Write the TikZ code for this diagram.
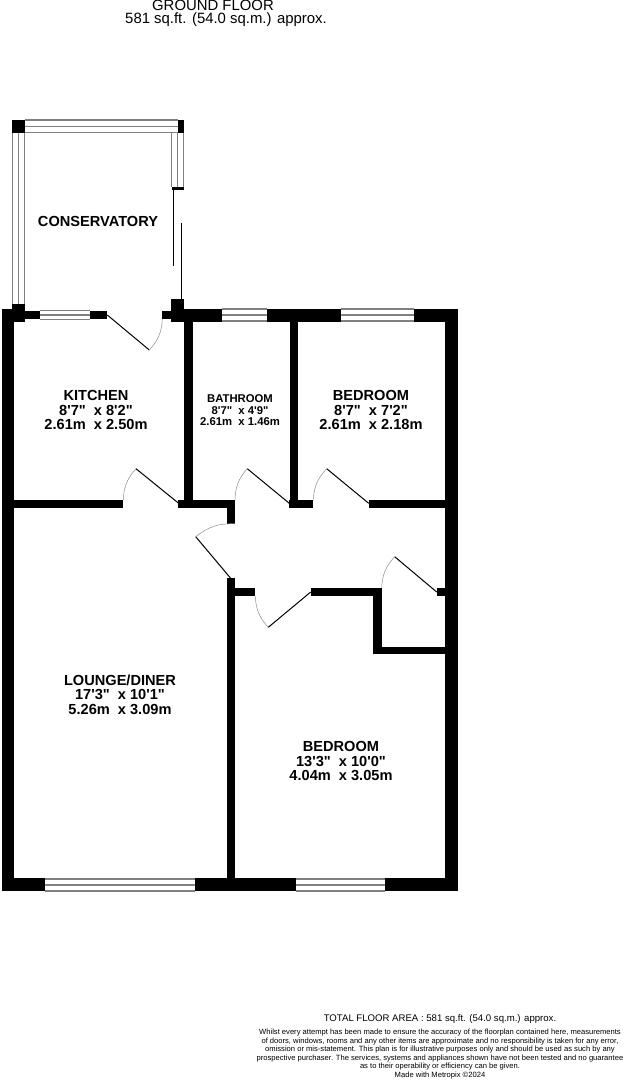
\documentclass[tikz,border=0pt]{standalone}
\usepackage{fontspec}
\newfontfamily\planfont{Liberation Sans}
\usetikzlibrary{positioning}

\begin{document}
\begin{tikzpicture}[x=1pt, y=-1pt, node distance=1pt]

	\tikzstyle{wall}=[fill=black, draw=none]
	\tikzstyle{glazing}=[draw=black!50, line width=1.1pt]
	\tikzstyle{leaf}=[draw=black, line width=1pt]
	\tikzstyle{swing}=[draw=black!45, line width=0.5pt]
	\tikzstyle{slider}=[draw=black, line width=1pt]

	\tikzstyle{heading}=[font=\planfont\fontsize{14.9}{15}\selectfont, align=center, inner sep=0pt]
	\tikzstyle{room}=[font=\planfont\bfseries\fontsize{14.6}{14.5}\selectfont, align=center, inner sep=0pt]
	\tikzstyle{smallroom}=[font=\planfont\bfseries\fontsize{11.3}{11.5}\selectfont, align=center, inner sep=0pt]
	\tikzstyle{small}=[font=\planfont\fontsize{7.6}{8.5}\selectfont, align=center, inner sep=0pt]

	\useasboundingbox (0,0) rectangle (624,1080);

	% conservatory
	\draw[glazing] (25,120) -- (177.5,120) (25,126.3) -- (177.5,126.3) (25,132.3) -- (184,132.3);
	\draw[glazing] (12.7,132.5) -- (12.7,304) (18.7,132.5) -- (18.7,304) (24.7,132.5) -- (24.7,304);
	\draw[glazing] (171.7,132.5) -- (171.7,187) (177.7,132.5) -- (177.7,187) (183.7,132.5) -- (183.7,187);
	\fill[wall] (12,119.5) rectangle (25,132.5);
	\fill[wall] (177.5,119.5) rectangle (184,132.5);
	\fill[wall] (171.5,186.5) rectangle (184,190);
	\draw[slider] (173,190) -- (173,265.7);
	\draw[slider] (181.7,222.7) -- (181.7,299);

	% outer walls
	\fill[wall] (1.5,308.5) rectangle (14,891.3);
	\fill[wall] (445,308.5) rectangle (457.5,891.3);
	\fill[wall] (12,304) rectangle (25,322);
	\fill[wall] (14,311) rectangle (39.7,319.3);
	\fill[wall] (90.3,311) rectangle (107.3,319.3);
	\fill[wall] (162.3,311) rectangle (171.3,319.3);
	\fill[wall] (171.3,299) rectangle (184,321.5);
	\fill[wall] (184,308.5) rectangle (221.7,321.5);
	\fill[wall] (267,308.5) rectangle (341,321.5);
	\fill[wall] (413.7,308.5) rectangle (445,321.5);
	\fill[wall] (1.5,878.3) rectangle (45,891.3);
	\fill[wall] (195,878.3) rectangle (295.5,891.3);
	\fill[wall] (385,878.3) rectangle (457.5,891.3);

	% inner walls
	\fill[wall] (184.2,321) rectangle (192.5,500);
	\fill[wall] (289.5,321) rectangle (298.3,500);
	\fill[wall] (14,499.7) rectangle (123.3,508.3);
	\fill[wall] (178.3,499.7) rectangle (235,508.3);
	\fill[wall] (226.7,508) rectangle (235,523.7);
	\fill[wall] (289.3,499.7) rectangle (313.3,508.3);
	\fill[wall] (368.7,499.7) rectangle (445,508.3);
	\fill[wall] (226.7,578.3) rectangle (235.2,880);
	\fill[wall] (235,587.7) rectangle (255.3,596.3);
	\fill[wall] (310.7,587.7) rectangle (381.7,596.3);
	\fill[wall] (373.3,596) rectangle (381.7,654);
	\fill[wall] (373.3,646.7) rectangle (445,654);
	\fill[wall] (436.7,587.7) rectangle (445,596.3);

	% windows
	\draw[glazing] (39.7,310.7) -- (90.3,310.7) (39.7,315) -- (90.3,315) (39.7,319.3) -- (90.3,319.3);
	\draw[glazing] (221.7,309) -- (267,309) (221.7,315) -- (267,315) (221.7,321) -- (267,321);
	\draw[glazing] (341,309) -- (413.7,309) (341,315) -- (413.7,315) (341,321) -- (413.7,321);
	\draw[glazing] (45,879) -- (195,879) (45,885) -- (195,885) (45,891) -- (195,891);
	\draw[glazing] (295.5,879) -- (385,879) (295.5,885) -- (385,885) (295.5,891) -- (385,891);

	% doors
	\draw[leaf] (107.3,315) -- (149.3,350);
	\draw[swing] (149.3,350) to[bend right=20] (162.3,319);
	\draw[leaf] (136,468.7) -- (178.3,503);
	\draw[swing] (123.3,500) to[bend left=20] (136,468.7);
	\draw[leaf] (247.3,468.7) -- (289.3,503.3);
	\draw[swing] (235,499.7) to[bend left=20] (247.3,468.7);
	\draw[leaf] (326.7,468.7) -- (368.7,503.3);
	\draw[swing] (313.3,499.7) to[bend left=20] (326.7,468.7);
	\draw[leaf] (195.7,536.7) -- (230.7,578.3);
	\draw[swing] (235,523.7) to[bend right=20] (195.7,536.7);
	\draw[leaf] (268.3,627.3) -- (310.7,592);
	\draw[swing] (255.3,596.3) to[bend right=20] (268.3,627.3);
	\draw[leaf] (394.7,556.7) -- (436.7,592);
	\draw[swing] (381.7,587.7) to[bend left=20] (394.7,556.7);

	% rooms
	\node[room] (conservatory) at (98,221) {CONSERVATORY};
	\node[room] (kitchen) at (96,410) {KITCHEN\\8'7"\ \ x 8'2"\\2.61m\ \ x 2.50m};
	\node[smallroom] (bathroom) at (240,410.5) {BATHROOM\\8'7"\ \ x 4'9"\\2.61m\ \ x 1.46m};
	\node[room] (bedroomone) at (371,410) {BEDROOM\\8'7"\ \ x 7'2"\\2.61m\ \ x 2.18m};
	\node[room] (lounge) at (120,694.5) {LOUNGE/DINER\\17'3"\ \ x 10'1"\\5.26m\ \ x 3.09m};
	\node[room] (bedroomtwo) at (341,761) {BEDROOM\\13'3"\ \ x 10'0"\\4.04m\ \ x 3.05m};

	% titles
	\node[heading] (floor) at (213,5) {GROUND FLOOR};
	\node[heading] (area) at (226,20) {581 sq.ft. (54.0 sq.m.) approx.};
	\node[font=\planfont\fontsize{9.6}{11}\selectfont, inner sep=0pt] (total) at (440,1019.5) {TOTAL FLOOR AREA : 581 sq.ft. (54.0 sq.m.) approx.};
	\node[small] (disclaimer) at (440,1054) {Whilst every attempt has been made to ensure the accuracy of the floorplan contained here, measurements\\of doors, windows, rooms and any other items are approximate and no responsibility is taken for any error,\\omission or mis-statement. This plan is for illustrative purposes only and should be used as such by any\\prospective purchaser. The services, systems and appliances shown have not been tested and no guarantee\\as to their operability or efficiency can be given.\\Made with Metropix \textcopyright2024};

\end{tikzpicture}
\end{document}
